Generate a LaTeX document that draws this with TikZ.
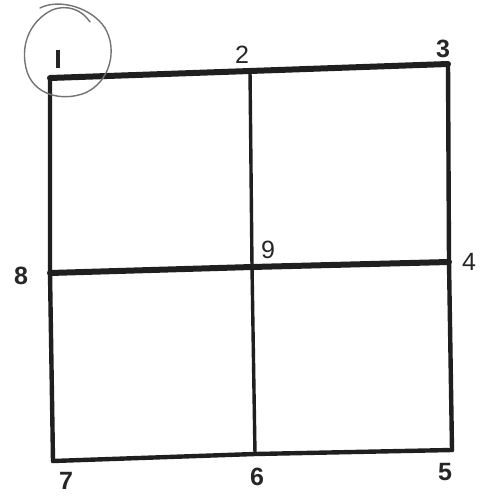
\documentclass[tikz,border=0pt]{standalone}
\usepackage{fontspec}
\setmainfont{Liberation Sans}
\begin{document}
\begin{tikzpicture}[x=1pt,y=-1pt,
  thick line/.style={line width=6pt,line cap=round,line join=round,black!88},
  mid line/.style={line width=4.4pt,line cap=round,line join=round,black!88},
  thin line/.style={line width=3.4pt,line cap=round,line join=round,black!88},
  lab/.style={font=\fontsize{25}{25}\selectfont,inner sep=0pt,text=black!85},
  blab/.style={lab,font=\fontsize{25}{25}\selectfont\bfseries}]
\useasboundingbox[fill=white] (0,0) rectangle (487,497);
\coordinate (p1) at (50,78);
\coordinate (p2) at (250,71);
\coordinate (p3) at (448,64);
\coordinate (p4) at (449,262);
\coordinate (p5) at (452,450);
\coordinate (p6) at (255,454);
\coordinate (p7) at (53,461);
\coordinate (p8) at (50,273);
\coordinate (p9) at (252,267);
% outer frame
\draw[thick line] (p1) -- (p2) -- (p3);
\draw[mid line] (p3) -- (p4) -- (p5);
\draw[mid line] (p5) -- (p6) -- (p7);
\draw[mid line] (p7) -- (p8) -- (p1);
% inner cross
\draw[thick line] (p8) -- (p9) -- (p4);
\draw[thin line] (p2) -- (p9) -- (p6);
% labels
\node[lab] (l1) at (58,59) {\rule{3.2pt}{18pt}};
\node[lab] (l2) at (242,55) {2};
\node[blab] (l3) at (443,49) {3};
\node[lab] (l4) at (469,262) {4};
\node[blab] (l5) at (445,472) {5};
\node[blab] (l6) at (257,477) {6};
\node[blab] (l7) at (66,481) {7};
\node[blab] (l8) at (21,276) {8};
\node[lab] (l9) at (268,250) {9};
% hand-drawn circle around 1
\draw[line width=1.4pt,black!55,line cap=round]
  (40,8) .. controls (60,-2) and (92,8) .. (105,28)
  .. controls (118,50) and (110,82) .. (85,93)
  .. controls (62,102) and (32,95) .. (26,68)
  .. controls (20,42) and (32,20) .. (52,10)
  .. controls (68,4) and (82,10) .. (90,22);
\end{tikzpicture}
\end{document}
